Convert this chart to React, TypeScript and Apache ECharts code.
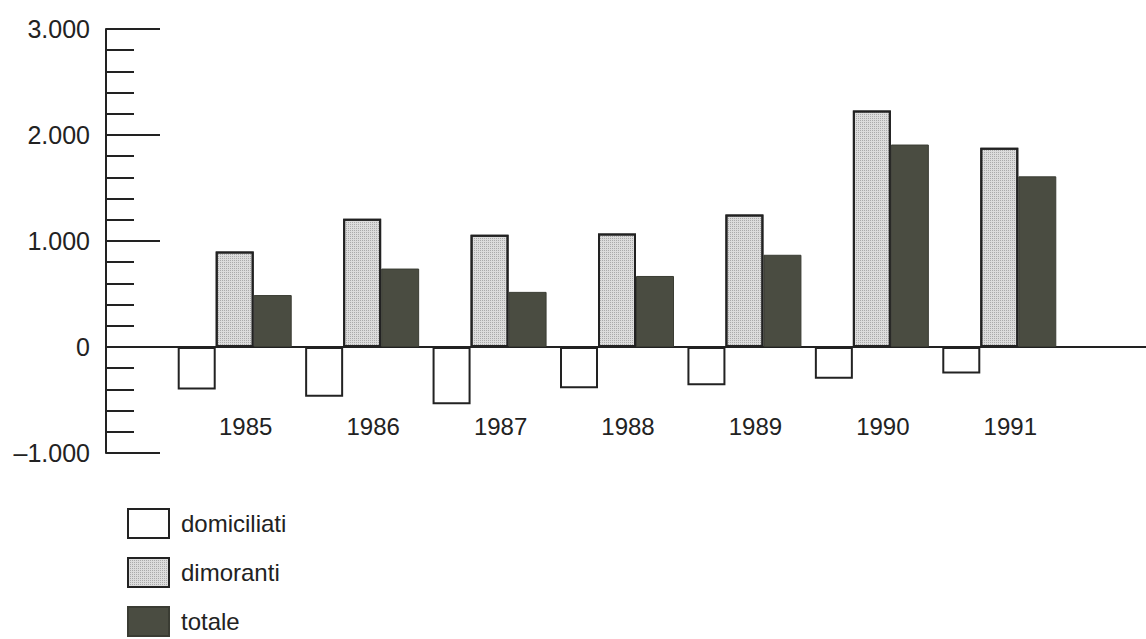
import React, { useEffect, useRef } from "react";
import * as echarts from "echarts";

const years = ["1985", "1986", "1987", "1988", "1989", "1990", "1991"];
const domiciliati = [-400, -470, -540, -390, -360, -300, -250];
const dimoranti = [900, 1210, 1060, 1070, 1250, 2230, 1880];
const totale = [490, 740, 520, 670, 870, 1910, 1610];
const seriesNames = ["domiciliati", "dimoranti", "totale"];

const FONT = "'Liberation Sans', Arial, Helvetica, sans-serif";
const INK = "#222222";

function fmt(v: number): string {
  const a = Math.abs(v);
  const s = a >= 1000 ? Math.floor(a / 1000) + "." + String(a % 1000).padStart(3, "0") : String(a);
  return v < 0 ? "\u2013" + s : s;
}

export default function App() {
  const ref = useRef<HTMLDivElement>(null);
  useEffect(() => {
    if (!ref.current) return;
    const chart = echarts.init(ref.current, undefined, { renderer: "svg" });
    const barBorder = { borderColor: INK, borderWidth: 2 };
    const legendTops = [508, 557, 606];
    const legends = seriesNames.map((name, i) => ({
      data: [name],
      orient: "vertical",
      left: 127,
      top: legendTops[i],
      padding: 0,
      icon: "rect",
      itemWidth: 41,
      itemHeight: 29,
      textStyle: {
        fontSize: 24,
        color: INK,
        fontFamily: FONT,
        padding: [0, 0, 0, 7],
      },
    }));
    chart.setOption({
      animation: false,
      backgroundColor: "#ffffff",
      textStyle: { fontFamily: FONT },
      legend: legends,
      grid: [
        { left: 106, right: 0, top: 29, height: 424 },
        { left: 171, width: 892, top: 29, height: 424 },
      ],
      xAxis: [
        {
          gridIndex: 0,
          type: "value",
          min: 0,
          max: 1,
          axisLine: { show: true, onZero: true, lineStyle: { color: INK, width: 2 } },
          axisTick: { show: false },
          axisLabel: { show: false },
          splitLine: { show: false },
        },
        {
          gridIndex: 1,
          type: "category",
          data: years,
          axisLine: { show: false },
          axisTick: { show: false },
          axisLabel: {
            margin: -39,
            fontSize: 24,
            color: INK,
            fontFamily: FONT,
            padding: [0, 0, 0, 22],
          },
          splitLine: { show: false },
        },
      ],
      yAxis: [
        {
          gridIndex: 0,
          type: "value",
          min: -1000,
          max: 3000,
          interval: 1000,
          axisLine: { show: true, lineStyle: { color: INK, width: 2 } },
          axisTick: { show: true, inside: true, length: 54, lineStyle: { color: INK, width: 2 } },
          minorTick: { show: true, splitNumber: 5, length: 28, lineStyle: { color: INK, width: 2 } },
          axisLabel: {
            margin: 16,
            fontSize: 25,
            color: INK,
            fontFamily: FONT,
            formatter: (v: number) => fmt(v),
          },
          splitLine: { show: false },
        },
        {
          gridIndex: 1,
          type: "value",
          min: -1000,
          max: 3000,
          interval: 1000,
          show: false,
          splitLine: { show: false },
        },
      ],
      series: [
        {
          name: seriesNames[0],
          type: "bar",
          xAxisIndex: 1,
          yAxisIndex: 1,
          data: domiciliati,
          barWidth: 38,
          barGap: "0%",
          itemStyle: { color: "#ffffff", ...barBorder },
        },
        {
          name: seriesNames[1],
          type: "bar",
          xAxisIndex: 1,
          yAxisIndex: 1,
          data: dimoranti,
          barWidth: 38,
          barGap: "0%",
          itemStyle: {
            color: "#dcdcdc",
            ...barBorder,
            decal: {
              symbol: "rect",
              symbolSize: 1,
              color: "rgba(40,40,40,0.28)",
              dashArrayX: [1, 1],
              dashArrayY: [1, 1],
              rotation: 0,
            },
          },
        },
        {
          name: seriesNames[2],
          type: "bar",
          xAxisIndex: 1,
          yAxisIndex: 1,
          data: totale,
          barWidth: 38,
          barGap: "0%",
          itemStyle: { color: "#4a4c41", borderColor: "#3a3c33", borderWidth: 1 },
        },
      ],
    });
    return () => chart.dispose();
  }, []);
  return (
    <div
      ref={ref}
      style={{ position: "fixed", left: 0, top: 0, width: 1146, height: 639 }}
    />
  );
}
